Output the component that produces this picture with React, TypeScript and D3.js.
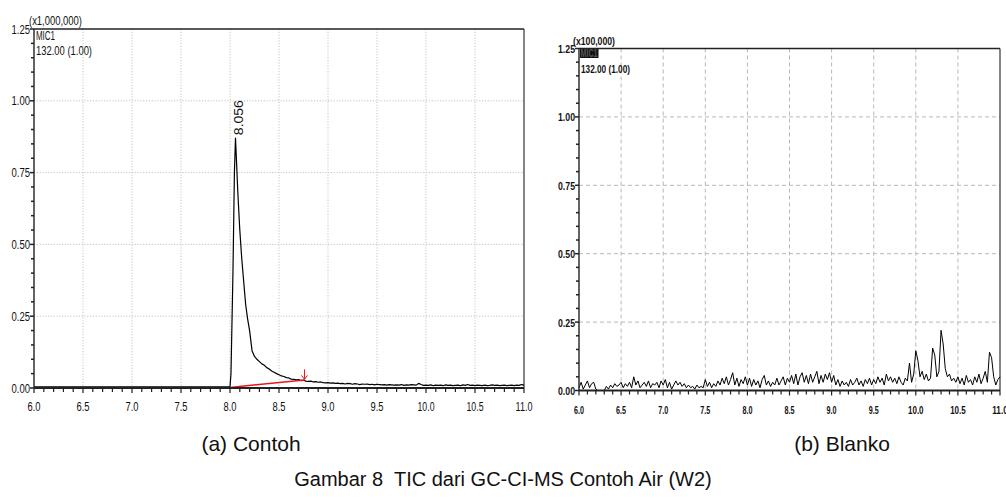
import React from "react";
import * as d3 from "d3";

// ---------- DATA ----------
// (a) Contoh, values in units of 1,000,000
const contohPeakX = [6.0, 6.5, 7.0, 7.5, 7.98, 8.0, 8.01, 8.03, 8.045, 8.056, 8.065, 8.08, 8.1, 8.12, 8.14, 8.16, 8.18];
const contohPeakY = [0.004, 0.004, 0.004, 0.004, 0.004, 0.004, 0.05, 0.4, 0.75, 0.87, 0.8, 0.68, 0.55, 0.45, 0.37, 0.29, 0.24];
const contohTailStart = 8.2;
const contohTailStep = 0.025;
const contohTail = [
  0.2, 0.13, 0.11, 0.1, 0.092, 0.084, 0.079, 0.071, 0.066, 0.059, 0.055, 0.05,
  0.046, 0.042, 0.04, 0.036, 0.035, 0.031, 0.03, 0.028, 0.029, 0.026, 0.027, 0.024,
  0.023, 0.024, 0.021, 0.022, 0.02, 0.021, 0.019, 0.018, 0.019, 0.017, 0.018, 0.016,
  0.017, 0.015, 0.016, 0.014, 0.016, 0.015, 0.013, 0.015, 0.014, 0.012, 0.014, 0.013,
  0.014, 0.012, 0.013, 0.011, 0.013, 0.012, 0.011, 0.012, 0.01, 0.012, 0.011, 0.01,
  0.011, 0.01, 0.012, 0.009, 0.011, 0.01, 0.012, 0.011, 0.01, 0.016, 0.012, 0.009,
  0.01, 0.009, 0.011, 0.008, 0.01, 0.009, 0.01, 0.008, 0.011, 0.009, 0.01, 0.008,
  0.009, 0.01, 0.008, 0.011, 0.009, 0.012, 0.009, 0.01, 0.008, 0.01, 0.009, 0.008,
  0.01, 0.008, 0.009, 0.011, 0.009, 0.01, 0.008, 0.009, 0.01, 0.008, 0.009, 0.01,
  0.008, 0.01, 0.009, 0.012, 0.01,
];
const contohBaselineX = [8.0, 8.76];
const contohBaselineY = [0.002, 0.028];
const peakLabel = "8.056";
const peakTime = 8.056;
const peakHeight = 0.87;
const markerTime = 8.76;

// (b) Blanko, values in units of 100,000
const blankoStart = 6.0;
const blankoStep = 0.025;
const blanko = [
  0.01, 0.03, 0.005, 0.02, 0.035, 0.01, 0.025, 0.03, 0.005, 0.0, 0.0, 0.0, 0.0, 0.015, 0.005, 0.02, 0.01, 0.025, 0.015, 0.02,
  0.03, 0.01, 0.025, 0.015, 0.03, 0.01, 0.05, 0.02, 0.035, 0.01, 0.02, 0.03, 0.015, 0.035, 0.01, 0.025, 0.02, 0.03, 0.01, 0.035,
  0.02, 0.04, 0.01, 0.03, 0.005, 0.02, 0.035, 0.02, 0.03, 0.015, 0.025, 0.01, 0.02, 0.01, 0.015, 0.005, 0.02, 0.01, 0.015, 0.01,
  0.04, 0.015, 0.03, 0.01, 0.025, 0.015, 0.035, 0.02, 0.045, 0.025, 0.05, 0.02, 0.04, 0.065, 0.02, 0.045, 0.015, 0.04, 0.025, 0.05,
  0.02, 0.045, 0.015, 0.04, 0.02, 0.035, 0.01, 0.04, 0.055, 0.02, 0.035, 0.015, 0.03, 0.02, 0.045, 0.02, 0.035, 0.05, 0.02, 0.045,
  0.03, 0.055, 0.025, 0.06, 0.02, 0.05, 0.065, 0.03, 0.055, 0.025, 0.06, 0.03, 0.05, 0.07, 0.025, 0.055, 0.03, 0.06, 0.04, 0.065,
  0.03, 0.055, 0.02, 0.04, 0.015, 0.035, 0.02, 0.03, 0.015, 0.04, 0.02, 0.03, 0.045, 0.02, 0.035, 0.015, 0.04, 0.025, 0.045, 0.02,
  0.04, 0.025, 0.05, 0.03, 0.045, 0.02, 0.06, 0.035, 0.05, 0.03, 0.045, 0.025, 0.05, 0.03, 0.02, 0.045, 0.035, 0.1, 0.03, 0.06,
  0.145, 0.11, 0.05, 0.07, 0.04, 0.06, 0.035, 0.045, 0.155, 0.13, 0.05, 0.07, 0.22, 0.17, 0.08, 0.05, 0.06, 0.035, 0.045, 0.03,
  0.05, 0.025, 0.045, 0.02, 0.055, 0.03, 0.04, 0.02, 0.05, 0.03, 0.06, 0.025, 0.045, 0.07, 0.03, 0.14, 0.12, 0.05, 0.02, 0.04,
  0.05,
];

const xTickLabels = ["6.0", "6.5", "7.0", "7.5", "8.0", "8.5", "9.0", "9.5", "10.0", "10.5", "11.0"];
const yTickLabels = ["0.00", "0.25", "0.50", "0.75", "1.00", "1.25"];
const captionA = "(a) Contoh";
const captionB = "(b) Blanko";
const figureTitle = "Gambar 8  TIC dari GC-CI-MS Contoh Air (W2)";

// ---------- helpers ----------
type Pt = [number, number];
const FONT = "Liberation Sans, Arial, sans-serif";

function Panel(props: {
  left: number; right: number; top: number; bottom: number;
  series: Pt[]; bold: boolean; gridDash: string; gridColor: string;
  children?: (x: d3.ScaleLinear<number, number>, y: d3.ScaleLinear<number, number>) => React.ReactNode;
}) {
  const { left, right, top, bottom, series, bold } = props;
  const x = d3.scaleLinear().domain([6, 11]).range([left, right]);
  const y = d3.scaleLinear().domain([0, 1.25]).range([bottom, top]);
  const line = d3.line<Pt>().x((d) => x(d[0])).y((d) => y(d[1]));
  const xMajor = xTickLabels.map((s) => +s);
  const yMajor = yTickLabels.map((s) => +s);
  const xMinor = d3.range(0, 51).map((i) => 6 + i * 0.1);
  const yMinor = d3.range(0, 26).map((i) => i * 0.05);
  const fw = bold ? 700 : 400;
  const fs = bold ? 11 : 12;
  return (
    <g>
      {xMajor.slice(1, -1).map((v, i) => (
        <line key={"gx" + i} x1={x(v)} x2={x(v)} y1={top} y2={bottom} stroke={props.gridColor} strokeDasharray={props.gridDash} strokeWidth={1} />
      ))}
      {yMajor.slice(1, -1).map((v, i) => (
        <line key={"gy" + i} x1={left} x2={right} y1={y(v)} y2={y(v)} stroke={props.gridColor} strokeDasharray={props.gridDash} strokeWidth={1} />
      ))}
      <line x1={left} x2={right} y1={top} y2={top} stroke="#222" strokeWidth={1.6} />
      <line x1={right} x2={right} y1={top} y2={bottom} stroke="#333" strokeWidth={1.2} />
      <path d={line(series) || ""} fill="none" stroke="#000" strokeWidth={bold ? 1 : 1.2} strokeLinejoin="round" />
      {props.children ? props.children(x, y) : null}
      <line x1={left} x2={left} y1={top} y2={bottom} stroke="#222" strokeWidth={1.4} />
      <line x1={left} x2={right} y1={bottom} y2={bottom} stroke="#222" strokeWidth={1.8} />
      {yMinor.map((v, i) => (
        <line key={"ym" + i} x1={left - (i % 5 === 0 ? 4 : 3)} x2={left} y1={y(v)} y2={y(v)} stroke="#222" strokeWidth={1.5} />
      ))}
      {xMinor.map((v, i) => (
        <line key={"xm" + i} x1={x(v)} x2={x(v)} y1={bottom} y2={bottom + (i % 5 === 0 ? 5 : 4)} stroke="#222" strokeWidth={1.2} />
      ))}
      {yTickLabels.map((s, i) => (
        <text key={"yl" + i} x={left - 4} y={y(+s) + 4.5} textAnchor="end" fontFamily={FONT} fontWeight={fw} fontSize={fs}
          textLength={bold ? 17 : 18.5} lengthAdjust="spacingAndGlyphs" fill="#111">{s}</text>
      ))}
      {xTickLabels.map((s, i) => (
        <text key={"xl" + i} x={x(+s)} y={bottom + 23} textAnchor="middle" fontFamily={FONT} fontWeight={fw} fontSize={fs}
          textLength={s.length > 3 ? (bold ? 15.5 : 17) : (bold ? 10 : 13)} lengthAdjust="spacingAndGlyphs" fill="#111">{s}</text>
      ))}
    </g>
  );
}

export default function App() {
  const contohSeries: Pt[] = [
    ...contohPeakX.map((v, i) => [v, contohPeakY[i]] as Pt),
    ...contohTail.map((v, i) => [contohTailStart + i * contohTailStep, v] as Pt),
  ];
  const blankoSeries: Pt[] = blanko.map((v, i) => [blankoStart + i * blankoStep, v] as Pt);

  return (
    <svg width={1006} height={498} style={{ position: "absolute", left: 0, top: 0, background: "#fff" }}
      xmlns="http://www.w3.org/2000/svg">
      <rect x={0} y={0} width={1006} height={498} fill="#fff" />
      <Panel left={34} right={524} top={29} bottom={388} series={contohSeries} bold={false}
        gridDash="1.2,1.6" gridColor="#c4c4c4">
        {(x, y) => {
          const bl = d3.line<Pt>().x((d) => x(d[0])).y((d) => y(d[1]));
          const blPts: Pt[] = contohBaselineX.map((v, i) => [v, contohBaselineY[i]] as Pt);
          const mx = x(markerTime);
          const my0 = y(0.065);
          const my1 = y(0.03);
          return (
            <g>
              <path d={bl(blPts) || ""} stroke="#e8161b" strokeWidth={1.5} fill="none" />
              <line x1={mx} x2={mx} y1={my0} y2={my1} stroke="#e8161b" strokeWidth={1} />
              <path d={`M${mx - 3},${my1 - 4} L${mx},${my1} L${mx + 3},${my1 - 4}`} stroke="#e8161b" strokeWidth={1} fill="none" />
              <text transform={`translate(${x(peakTime) + 8},${y(peakHeight) - 3}) rotate(-90)`} fontFamily={FONT}
                fontSize={12} textLength={35} lengthAdjust="spacingAndGlyphs" fill="#111">{peakLabel}</text>
            </g>
          );
        }}
      </Panel>
      <text x={29} y={25} fontFamily={FONT} fontSize={12} textLength={53} lengthAdjust="spacingAndGlyphs" fill="#111">(x1,000,000)</text>
      <text x={36} y={39.5} fontFamily={FONT} fontSize={12} textLength={19} lengthAdjust="spacingAndGlyphs" fill="#111">MIC1</text>
      <text x={36} y={55} fontFamily={FONT} fontSize={12} textLength={56} lengthAdjust="spacingAndGlyphs" fill="#111">132.00 (1.00)</text>

      <Panel left={579} right={1000} top={48.5} bottom={390.5} series={blankoSeries} bold={true}
        gridDash="4,3" gridColor="#b8b8b8" />
      <text x={573} y={45} fontFamily={FONT} fontWeight={700} fontSize={11} textLength={42} lengthAdjust="spacingAndGlyphs" fill="#111">(x100,000)</text>
      <rect x={580} y={49} width={18.5} height={9} fill="#111" />
      <text x={580.5} y={57} fontFamily={FONT} fontWeight={700} fontSize={10} textLength={17} lengthAdjust="spacingAndGlyphs" fill="#555">MIC1</text>
      <text x={581} y={72.5} fontFamily={FONT} fontWeight={700} fontSize={11} textLength={49} lengthAdjust="spacingAndGlyphs" fill="#111">132.00 (1.00)</text>

      <text x={251} y={451} textAnchor="middle" fontFamily={FONT} fontSize={21} fill="#111">{captionA}</text>
      <text x={842} y={451} textAnchor="middle" fontFamily={FONT} fontSize={21} fill="#111">{captionB}</text>
      <text x={503} y={486} textAnchor="middle" fontFamily={FONT} fontSize={20} fill="#111" style={{ whiteSpace: "pre" }}>{figureTitle}</text>
    </svg>
  );
}
